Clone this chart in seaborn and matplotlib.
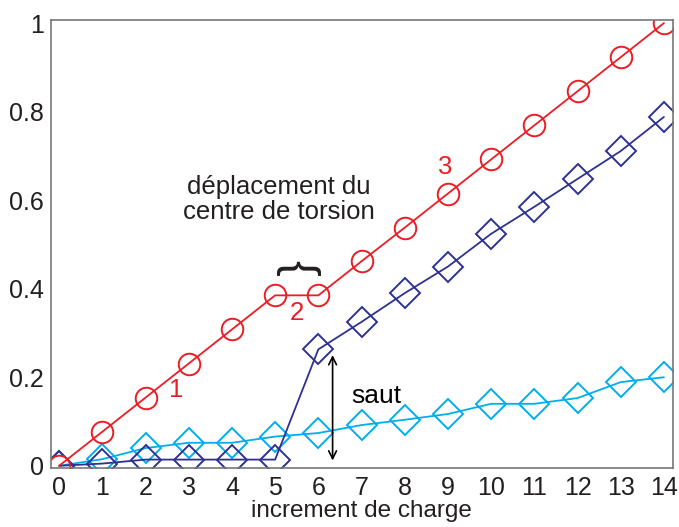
import numpy as np
import pandas as pd
import seaborn as sns
import matplotlib.pyplot as plt

# Load increments
increments = list(range(15))

# Normalised displacement for each curve
courbe_rouge = [0.0, 0.077, 0.154, 0.231, 0.308, 0.385, 0.385, 0.462, 0.538,
                0.615, 0.692, 0.769, 0.846, 0.923, 1.0]
courbe_bleu_fonce = [0.0, 0.005, 0.014, 0.014, 0.014, 0.014, 0.263, 0.325, 0.39,
                     0.45, 0.524, 0.585, 0.648, 0.711, 0.788]
courbe_bleu_clair = [0.0, 0.015, 0.04, 0.052, 0.052, 0.066, 0.074, 0.092, 0.104,
                     0.117, 0.14, 0.14, 0.153, 0.189, 0.2]

y_ticks = [0, 0.2, 0.4, 0.6, 0.8, 1]
y_tick_labels = ["0", "0.2", "0.4", "0.6", "0.8", "1"]

ROUGE = "#ee1c25"
BLEU_FONCE = "#2e3192"
BLEU_CLAIR = "#00aeef"
TEXTE = "#231f20"

sns.set_style("white")
plt.rcParams["font.family"] = ["Liberation Sans", "DejaVu Sans"]

df = pd.DataFrame({
    "increment": increments,
    "rouge": courbe_rouge,
    "bleu_fonce": courbe_bleu_fonce,
    "bleu_clair": courbe_bleu_clair,
})

fig = plt.figure(figsize=(6.79, 5.27), dpi=100)
ax = fig.add_axes([50.5 / 679, 1 - 468 / 527, (673 - 50.5) / 679, (468 - 20) / 527])

common = dict(linewidth=1.3, markerfacecolor="none", markeredgewidth=1.4)
sns.lineplot(data=df, x="increment", y="bleu_clair", ax=ax, color=BLEU_CLAIR,
             marker="D", markersize=15, markeredgecolor=BLEU_CLAIR, **common)
sns.lineplot(data=df, x="increment", y="bleu_fonce", ax=ax, color=BLEU_FONCE,
             marker="D", markersize=15, markeredgecolor=BLEU_FONCE, **common)
sns.lineplot(data=df, x="increment", y="rouge", ax=ax, color=ROUGE,
             marker="o", markersize=15.5, markeredgecolor=ROUGE, **common)

ax.set_xlim(-0.2, 14.21)
ax.set_ylim(-0.005, 1.007)
ax.set_xticks(increments)
ax.set_yticks(y_ticks)
ax.set_yticklabels(y_tick_labels)
ax.tick_params(axis="both", direction="out", length=4, width=1, color="#666666",
               labelsize=18, labelcolor=TEXTE, pad=1)
ax.tick_params(axis="x", pad=2)
for s in ax.spines.values():
    s.set_color("#777777")
    s.set_linewidth(1.2)
ax.set_xlabel("increment de charge", fontsize=17.5, color=TEXTE, labelpad=0)
ax.set_ylabel("")

# Annotations
ax.text(5.09, 0.602, "déplacement du\ncentre de torsion", ha="center", va="center",
        fontsize=18.5, color=TEXTE, linespacing=1.05)
ax.text(5.5, 0.447, "{", rotation=-90, ha="center", va="center",
        fontsize=34, color=TEXTE)
ax.text(2.7, 0.172, "1", ha="center", va="center", fontsize=18.5, color=ROUGE)
ax.text(5.5, 0.345, "2", ha="center", va="center", fontsize=18.5, color=ROUGE)
ax.text(8.93, 0.675, "3", ha="center", va="center", fontsize=18.5, color=ROUGE)
ax.text(7.35, 0.158, "saut", ha="center", va="center", fontsize=19, color="black")
ax.annotate("", xy=(6.33, 0.012), xytext=(6.33, 0.25),
            arrowprops=dict(arrowstyle="<->", color="black", lw=1.2,
                            shrinkA=0, shrinkB=0, mutation_scale=14))

fig.savefig("out.png", dpi=100)
